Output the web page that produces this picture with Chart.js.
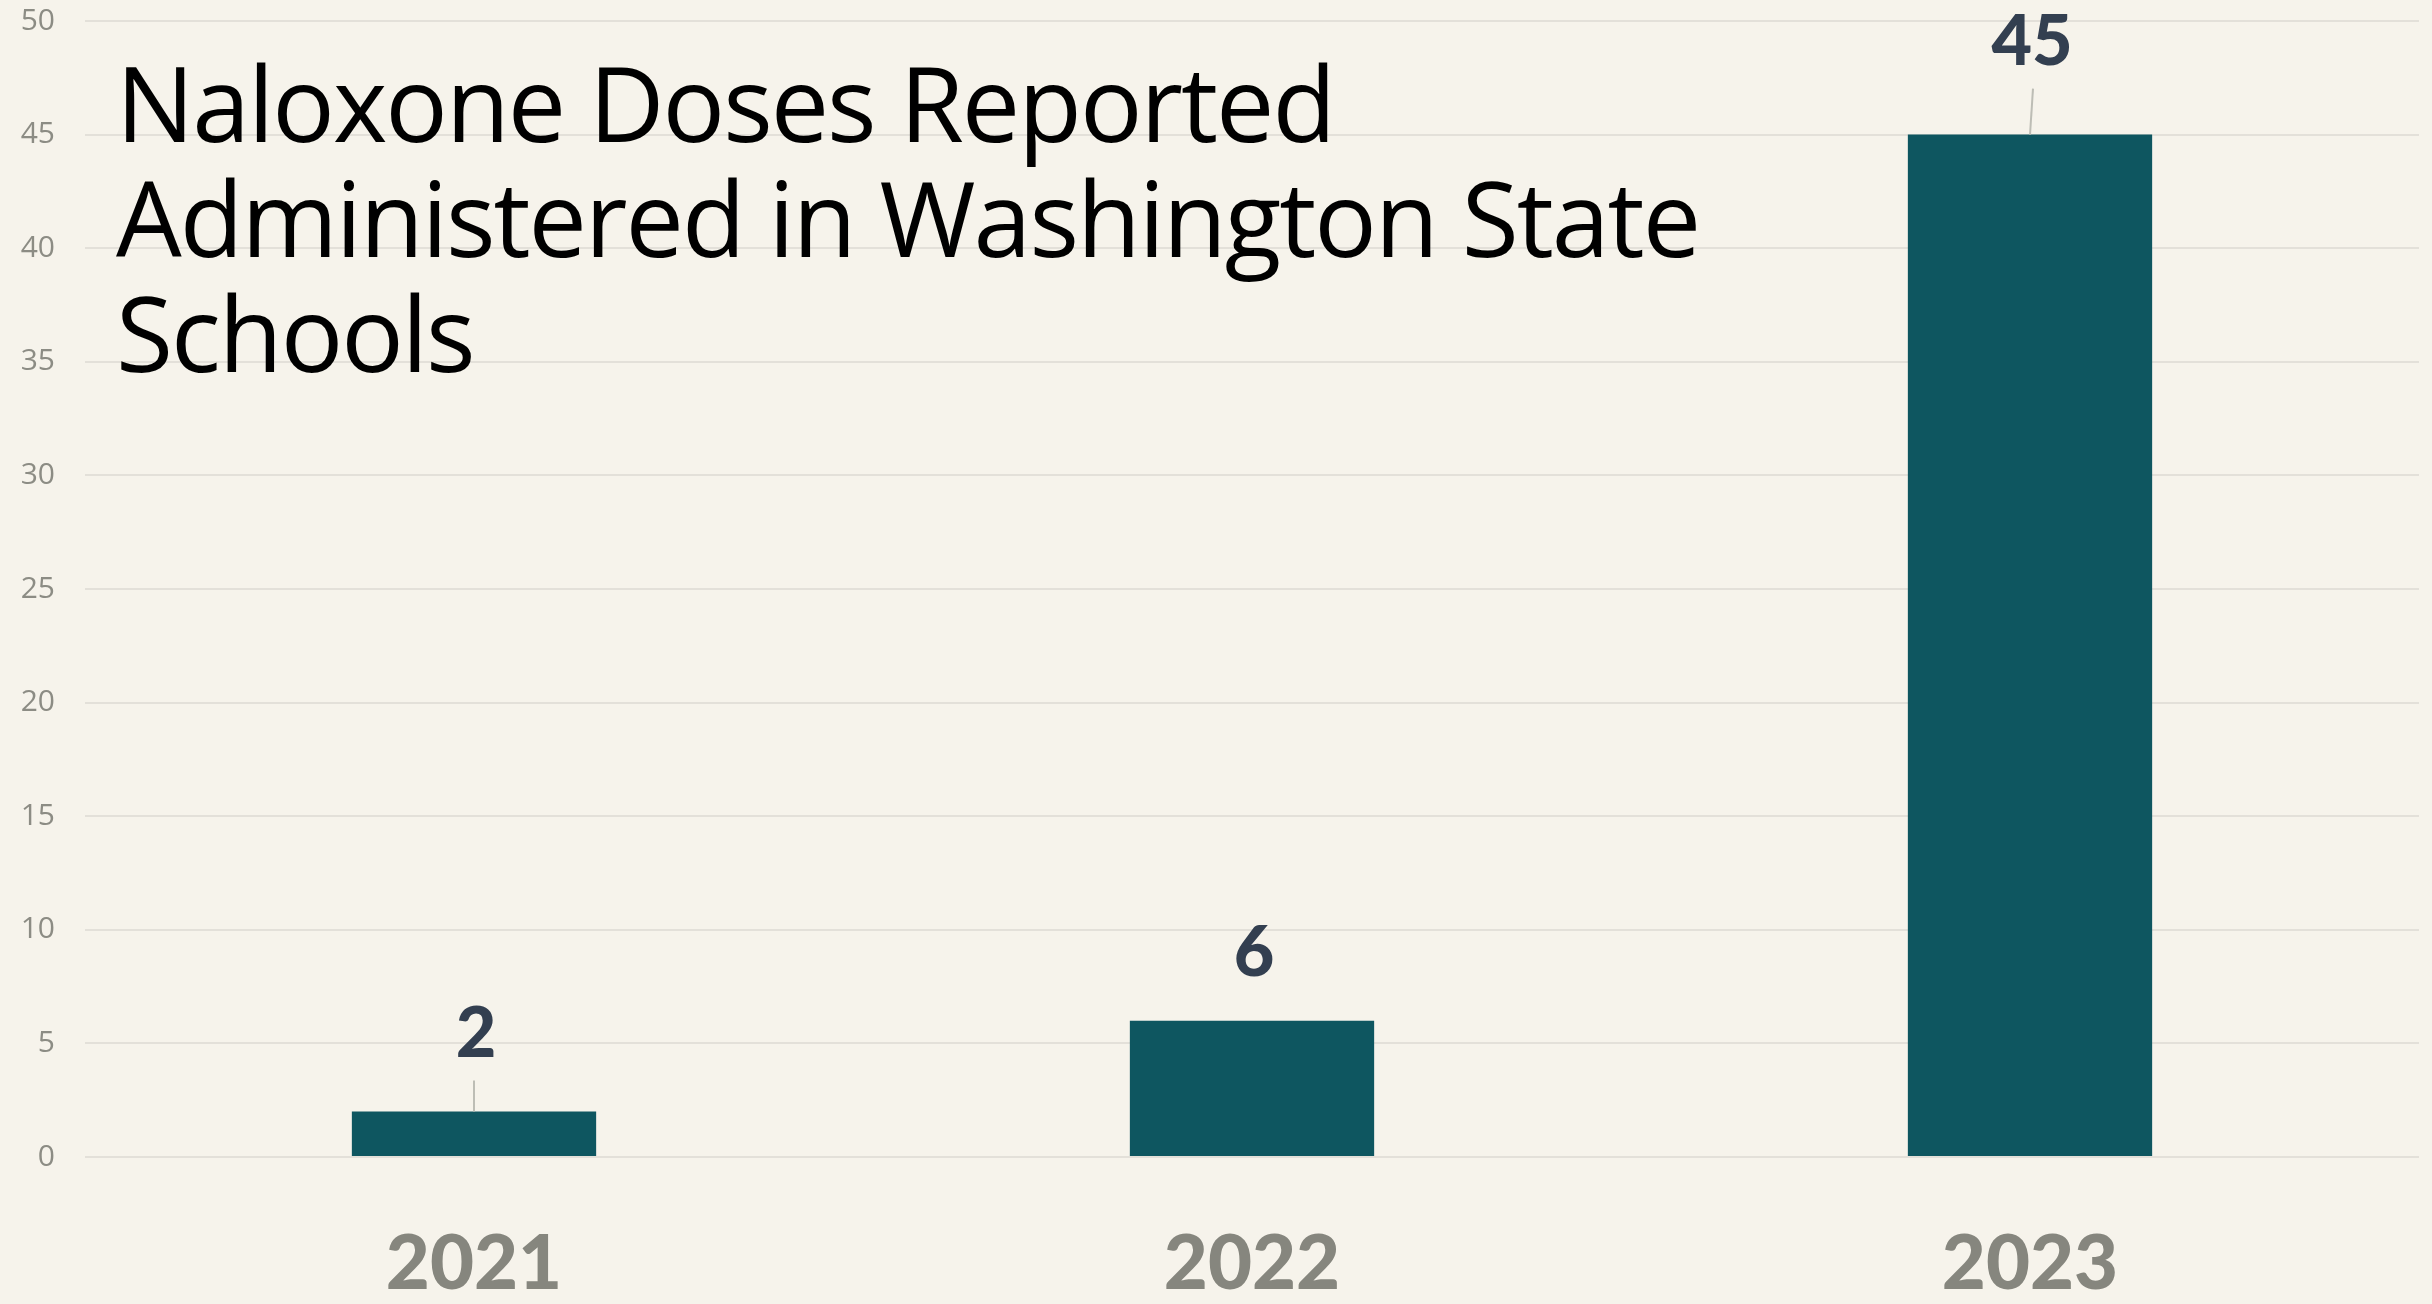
<!DOCTYPE html>
<html>
<head>
<meta charset="utf-8">
<script src="https://cdn.jsdelivr.net/npm/chart.js@4"></script>
<style>
  html, body { margin: 0; padding: 0; background: #f6f3eb; }
  #wrap { position: relative; width: 2432px; height: 1304px; }
  #title {
    position: absolute; left: 116px; top: 44px;
    font-family: "Open Sans", "Noto Sans", sans-serif;
    font-size: 104px; line-height: 115px; color: #000;
    letter-spacing: -2px; white-space: pre;
  }
</style>
</head>
<body>
<div id="wrap">
  <canvas id="chart" width="2432" height="1304"></canvas>
  <div id="title">Naloxone Doses Reported
Administered in Washington State
Schools</div>
</div>
<script>
// 데이터
const years = ['2021', '2022', '2023'];
const doses = [2, 6, 45];
const yTicks = [0, 5, 10, 15, 20, 25, 30, 35, 40, 45, 50];

// 막대 위 값 라벨 + 지시선 (Excel에서 손으로 옮긴 라벨 흉내)
const valueLabels = {
  id: 'valueLabels',
  afterDatasetsDraw: function (chart, args, opts) {
    const ctx = chart.ctx;
    const meta = chart.getDatasetMeta(0);
    ctx.save();
    meta.data.forEach(function (bar, i) {
      const lift = opts.lift[i];
      const cy = bar.y - lift;
      if (opts.leader[i]) {
        ctx.strokeStyle = '#bdbdb5';
        ctx.lineWidth = 2;
        ctx.beginPath();
        ctx.moveTo(bar.x + opts.tilt[i], bar.y - lift + 46);
        ctx.lineTo(bar.x, bar.y);
        ctx.stroke();
      }
      ctx.fillStyle = '#333f50';
      ctx.font = '900 70px Lato, "Open Sans", sans-serif';
      ctx.textAlign = 'center';
      ctx.textBaseline = 'middle';
      ctx.fillText(String(doses[i]), bar.x + 2, cy);
    });
    ctx.restore();
  }
};

const chart = new Chart(document.getElementById('chart'), {
  type: 'bar',
  data: {
    labels: years,
    datasets: [{
      data: doses,
      backgroundColor: '#0e5660',
      borderWidth: 0,
      categoryPercentage: 1,
      barPercentage: 0.314
    }]
  },
  options: {
    responsive: false,
    animation: false,
    layout: { padding: { top: 21, right: 13, left: 0, bottom: 0 } },
    plugins: {
      legend: { display: false },
      tooltip: { enabled: false },
      valueLabels: { lift: [77, 67, 92], leader: [true, false, true], tilt: [0, 0, 3] }
    },
    scales: {
      x: {
        grid: { display: false, drawTicks: false },
        border: { display: false },
        ticks: {
          color: '#86867e',
          padding: 62,
          font: { family: 'Lato, "Open Sans", sans-serif', size: 76, weight: '900' }
        },
        afterFit: function (s) { s.height = 147; s.paddingLeft = 0; s.paddingRight = 0; }
      },
      y: {
        min: 0, max: 50,
        afterBuildTicks: function (s) { s.ticks = yTicks.map(function (v) { return { value: v }; }); },
        grid: { color: '#e3e0d9', lineWidth: 2, drawTicks: false },
        border: { display: false },
        ticks: {
          color: '#8c8c84',
          padding: 30,
          font: { family: '"Open Sans", "Noto Sans", sans-serif', size: 30 }
        },
        afterFit: function (s) { s.width = 85; s.paddingTop = 0; s.paddingBottom = 0; }
      }
    }
  },
  plugins: [valueLabels]
});
</script>
</body>
</html>
